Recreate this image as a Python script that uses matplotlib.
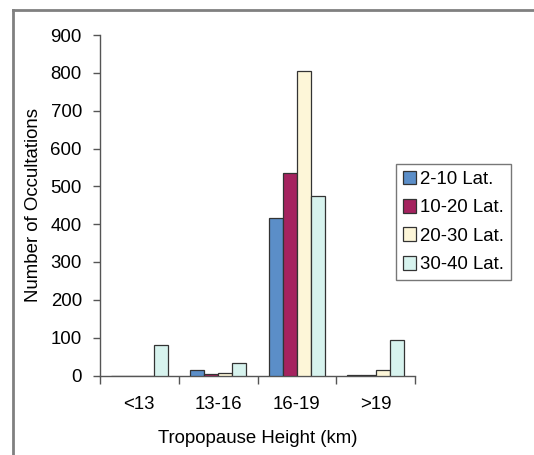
import numpy as np
import matplotlib
matplotlib.use("Agg")
import matplotlib.pyplot as plt
from matplotlib.lines import Line2D

plt.rcParams['font.family'] = ['Liberation Sans', 'DejaVu Sans']

# Tropopause height bins and occultation counts per latitude band
heights = ['<13', '13-16', '16-19', '>19']
bands = ['2-10 Lat.', '10-20 Lat.', '20-30 Lat.', '30-40 Lat.']
lat_2_10 = [0, 14, 415, 1]
lat_10_20 = [0, 3, 534, 1]
lat_20_30 = [0, 6, 804, 14]
lat_30_40 = [80, 32, 474, 94]
colors = ['#5b8ec8', '#a5235f', '#fdf6d8', '#d7f3ee']

fs = 13.4

fig = plt.figure(figsize=(5.34, 4.55), dpi=100)
ax = fig.add_axes([100 / 534, 1 - 375.5 / 455, 315 / 534, 340.5 / 455])

x = np.arange(len(heights))
width = 0.18
series = [lat_2_10, lat_10_20, lat_20_30, lat_30_40]
for i, (vals, lab, col) in enumerate(zip(series, bands, colors)):
    ax.bar(x + (i - 1.5) * width, vals, width, color=col, edgecolor='#333333',
           linewidth=0.9, label=lab, zorder=3)

ax.set_xlim(-0.5, 3.5)
ax.set_ylim(0, 900)
ax.set_yticks(range(0, 1000, 100))
ax.tick_params(axis='y', direction='out', length=5, width=1, color='#555555',
               labelsize=fs, pad=8)
ax.set_xticks(x)
ax.set_xticklabels(heights)
ax.tick_params(axis='x', length=0, labelsize=fs, pad=15)
# tick marks between the groups
ax.set_xticks(np.arange(-0.5, 4.0, 1.0), minor=True)
ax.tick_params(axis='x', which='minor', direction='out', length=6, width=1, color='#555555')

for side in ['top', 'right']:
    ax.spines[side].set_visible(False)
for side in ['left', 'bottom']:
    ax.spines[side].set_color('#555555')
    ax.spines[side].set_linewidth(1)

ax.set_xlabel('Tropopause Height (km)', fontsize=fs, labelpad=12)
ax.set_ylabel('Number of Occultations', fontsize=fs, labelpad=6)

leg = ax.legend(loc='upper left', bbox_to_anchor=((396 - 100) / 315, (375.5 - 164) / 340.5),
                fontsize=fs, frameon=True, fancybox=False, edgecolor='#555555',
                handlelength=0.75, handleheight=0.75, handletextpad=0.2,
                labelspacing=0.6, borderpad=0.35, borderaxespad=0)
leg.get_frame().set_linewidth(1)

# outer frame around the figure
fig.add_artist(Line2D([13 / 534, 1], [1 - 10 / 455, 1 - 10 / 455],
                      transform=fig.transFigure, color='#808080', lw=2))
fig.add_artist(Line2D([13 / 534, 13 / 534], [0, 1 - 10 / 455],
                      transform=fig.transFigure, color='#808080', lw=2))

fig.savefig('out.png', dpi=100)
